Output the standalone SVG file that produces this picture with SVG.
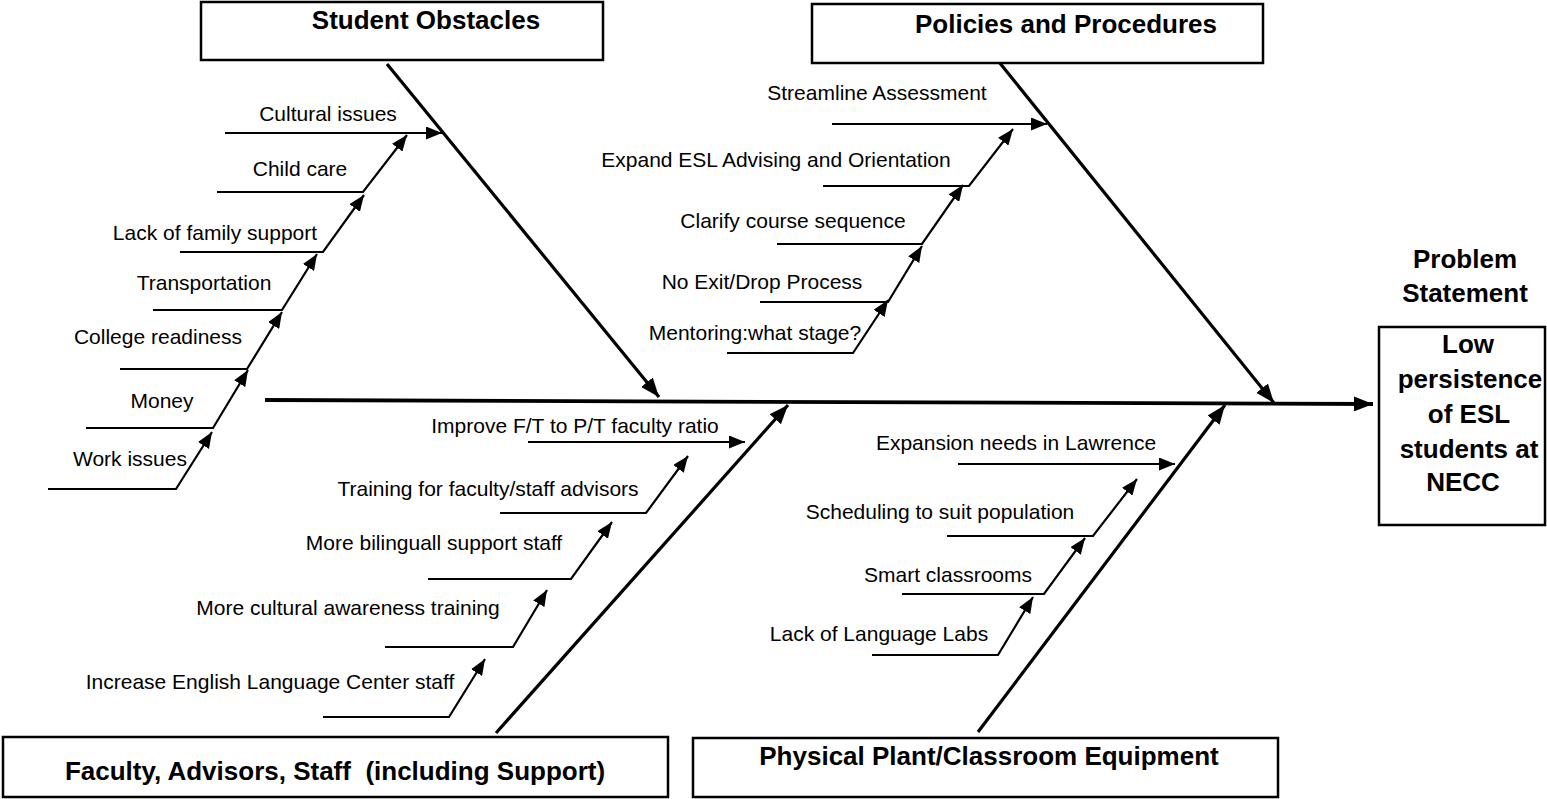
<svg xmlns="http://www.w3.org/2000/svg" width="1547" height="799" viewBox="0 0 1547 799">
<style>
.box{fill:#fff;stroke:#000;stroke-width:2.5}
.hdr{font-family:"Liberation Sans",Arial,sans-serif;font-weight:bold;font-size:26px;fill:#000;text-anchor:middle}
.lbl{font-family:"Liberation Sans",Arial,sans-serif;font-size:21px;fill:#000;text-anchor:middle}
.rib{fill:none;stroke:#000;stroke-width:2.2}
.bone{fill:none;stroke:#000;stroke-width:3.2}
.spine{fill:none;stroke:#000;stroke-width:3.8}
</style>
<defs>
<marker id="ar" markerUnits="userSpaceOnUse" markerWidth="16" markerHeight="13" viewBox="0 0 16 13" refX="16" refY="6.5" orient="auto"><path d="M0,0 L16,6.5 L0,13 z" fill="#000"/></marker>
<marker id="ab" markerUnits="userSpaceOnUse" markerWidth="19" markerHeight="15" viewBox="0 0 19 15" refX="19" refY="7.5" orient="auto"><path d="M0,0 L19,7.5 L0,15 z" fill="#000"/></marker>
</defs>

<g id="connectors">
<line class="spine" x1="265" y1="400" x2="1373" y2="404" marker-end="url(#ab)"/>
<line class="bone" x1="387" y1="64" x2="659" y2="397" marker-end="url(#ab)"/>
<line class="bone" x1="999" y1="62" x2="1274" y2="403" marker-end="url(#ab)"/>
<line class="bone" x1="496" y1="733" x2="788" y2="405" marker-end="url(#ab)"/>
<line class="bone" x1="978" y1="732" x2="1225" y2="405" marker-end="url(#ab)"/>

<line class="rib" x1="225" y1="133" x2="442" y2="133" marker-end="url(#ar)"/>
<polyline class="rib" points="217,192 363,192 407,135" marker-end="url(#ar)"/>
<polyline class="rib" points="180,252 323,252 364,195" marker-end="url(#ar)"/>
<polyline class="rib" points="153,310 282,310 317,254" marker-end="url(#ar)"/>
<polyline class="rib" points="120,369 247,369 282,312" marker-end="url(#ar)"/>
<polyline class="rib" points="86,428 213,428 248,370" marker-end="url(#ar)"/>
<polyline class="rib" points="48,489 176,489 212,432" marker-end="url(#ar)"/>

<line class="rib" x1="832" y1="124" x2="1047" y2="124" marker-end="url(#ar)"/>
<polyline class="rib" points="823,186 969,186 1013,129" marker-end="url(#ar)"/>
<polyline class="rib" points="777,244 922,244 963,185" marker-end="url(#ar)"/>
<polyline class="rib" points="760,302 888,302 922,246" marker-end="url(#ar)"/>
<polyline class="rib" points="727,353 853,353 888,300" marker-end="url(#ar)"/>

<line class="rib" x1="528" y1="442" x2="745" y2="442" marker-end="url(#ar)"/>
<polyline class="rib" points="500,513 646,513 688,456" marker-end="url(#ar)"/>
<polyline class="rib" points="428,579 571,579 612,522" marker-end="url(#ar)"/>
<polyline class="rib" points="385,647 513,647 547,590" marker-end="url(#ar)"/>
<polyline class="rib" points="323,717 449,717 485,659" marker-end="url(#ar)"/>

<line class="rib" x1="958" y1="464" x2="1175" y2="464" marker-end="url(#ar)"/>
<polyline class="rib" points="947,536 1093,536 1137,479" marker-end="url(#ar)"/>
<polyline class="rib" points="902,594 1044,594 1085,538" marker-end="url(#ar)"/>
<polyline class="rib" points="872,655 998,655 1033,597" marker-end="url(#ar)"/>
</g>

<g id="student-obstacles">
<rect class="box" x="201" y="2" width="402" height="58"/>
<text class="hdr" x="426" y="29">Student Obstacles</text>
<text class="lbl" x="328" y="121">Cultural issues</text>
<text class="lbl" x="300" y="176">Child care</text>
<text class="lbl" x="215" y="240">Lack of family support</text>
<text class="lbl" x="204" y="290">Transportation</text>
<text class="lbl" x="158" y="344">College readiness</text>
<text class="lbl" x="162" y="408">Money</text>
<text class="lbl" x="130" y="466">Work issues</text>
</g>

<g id="policies">
<rect class="box" x="812" y="4" width="451" height="59"/>
<text class="hdr" x="1066" y="33">Policies and Procedures</text>
<text class="lbl" x="877" y="100">Streamline Assessment</text>
<text class="lbl" x="776" y="167">Expand ESL Advising and Orientation</text>
<text class="lbl" x="793" y="228">Clarify course sequence</text>
<text class="lbl" x="762" y="289">No Exit/Drop Process</text>
<text class="lbl" x="755" y="340">Mentoring:what stage?</text>
</g>

<g id="faculty">
<rect class="box" x="3" y="737" width="665" height="60"/>
<text class="hdr" x="335" y="780" xml:space="preserve">Faculty, Advisors, Staff  (including Support)</text>
<text class="lbl" x="575" y="433">Improve F/T to P/T faculty ratio</text>
<text class="lbl" x="488" y="496">Training for faculty/staff advisors</text>
<text class="lbl" x="434" y="550">More bilinguall support staff</text>
<text class="lbl" x="348" y="615">More cultural awareness training</text>
<text class="lbl" x="270" y="689">Increase English Language Center staff</text>
</g>

<g id="physical">
<rect class="box" x="693" y="738" width="585" height="59"/>
<text class="hdr" x="989" y="765">Physical Plant/Classroom Equipment</text>
<text class="lbl" x="1016" y="450">Expansion needs in Lawrence</text>
<text class="lbl" x="940" y="519">Scheduling to suit population</text>
<text class="lbl" x="948" y="582">Smart classrooms</text>
<text class="lbl" x="879" y="641">Lack of Language Labs</text>
</g>

<g id="problem">
<text class="hdr" x="1465" y="268">Problem</text>
<text class="hdr" x="1465" y="302">Statement</text>
<rect class="box" x="1379" y="327" width="166" height="198"/>
<text class="hdr" x="1468" y="353">Low</text>
<text class="hdr" x="1470" y="388">persistence</text>
<text class="hdr" x="1469" y="423">of ESL</text>
<text class="hdr" x="1469" y="458">students at</text>
<text class="hdr" x="1463" y="491">NECC</text>
</g>
</svg>
